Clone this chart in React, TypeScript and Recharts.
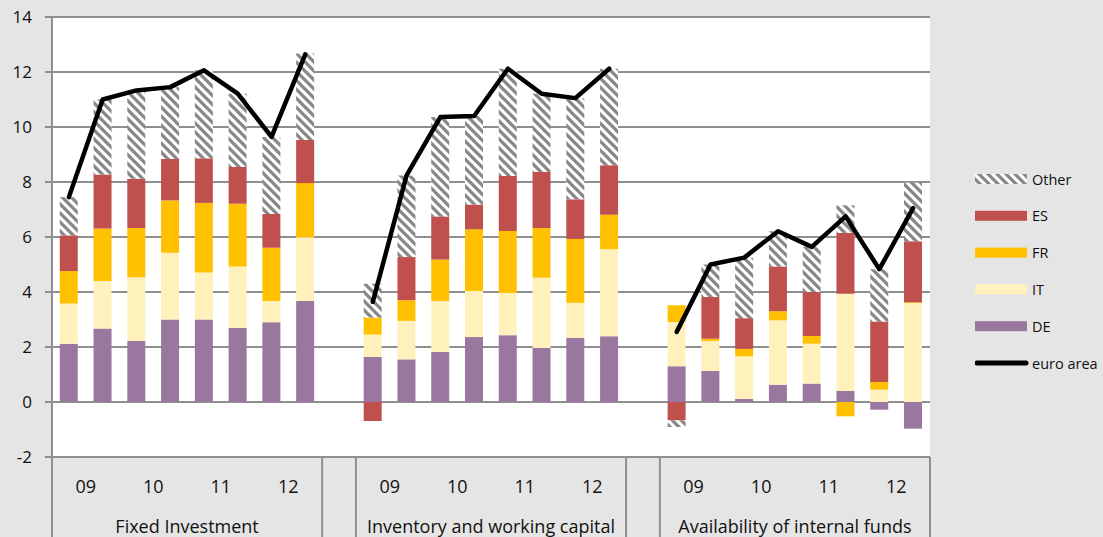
import React from "react";
import {
  ComposedChart,
  Bar,
  Line,
  XAxis,
  YAxis,
  CartesianGrid,
  Legend,
} from "recharts";

// ---------- data ----------
const groups = ["Fixed Investment", "Inventory and working capital", "Availability of internal funds"];
const years = ["09", "10", "11", "12"];

// 8 survey rounds per group (2 per year), 3 groups => 24 values per series
const DE = [
  2.12, 2.67, 2.22, 3.0, 3.0, 2.69, 2.9, 3.67,
  1.64, 1.55, 1.82, 2.36, 2.43, 1.96, 2.33, 2.39,
  1.3, 1.13, 0.11, 0.63, 0.67, 0.4, -0.28, -0.97,
];
const IT = [
  1.46, 1.73, 2.32, 2.43, 1.71, 2.24, 0.77, 2.32,
  0.81, 1.4, 1.85, 1.68, 1.53, 2.56, 1.28, 3.17,
  1.61, 1.09, 1.55, 2.34, 1.45, 3.54, 0.45, 3.6,
];
const FR = [
  1.18, 1.91, 1.79, 1.9, 2.53, 2.28, 1.94, 1.97,
  0.62, 0.75, 1.51, 2.24, 2.26, 1.81, 2.32, 1.25,
  0.61, 0.08, 0.27, 0.33, 0.28, -0.52, 0.28, 0.03,
];
const ES = [
  1.3, 1.96, 1.79, 1.51, 1.62, 1.34, 1.23, 1.57,
  -0.69, 1.57, 1.57, 0.9, 2.0, 2.03, 1.44, 1.8,
  -0.67, 1.52, 1.12, 1.63, 1.6, 2.21, 2.2, 2.22,
];
const OTHER = [
  1.39, 2.73, 3.21, 2.61, 3.2, 2.66, 2.8, 3.14,
  1.23, 2.97, 3.61, 3.22, 3.9, 2.85, 3.68, 3.51,
  -0.24, 1.18, 2.2, 1.28, 1.64, 1.0, 1.9, 2.12,
];
const EURO = [
  7.45, 11.0, 11.33, 11.45, 12.06, 11.21, 9.64, 12.64,
  3.64, 8.24, 10.36, 10.4, 12.12, 11.21, 11.05, 12.12,
  2.55, 5.0, 5.25, 6.21, 5.64, 6.75, 4.83, 7.05,
];
const yTicks = [-2, 0, 2, 4, 6, 8, 10, 12, 14];

// ---------- styles ----------
const COLORS = {
  DE: "#9a779e",
  IT: "#fff1bb",
  FR: "#ffc000",
  ES: "#c0504d",
  line: "#000000",
  grid: "#8f8f8f",
  bg: "#e5e5e5",
};
const FONT = "'Open Sans', sans-serif";

// ---------- layout ----------
const W = 1103;
const H = 537;
const MARGIN = { top: 17, right: 173, bottom: 0, left: 0 };
const YAXIS_W = 52;
const XAXIS_H = 80;
const PER_GROUP = 8;

// build table with a blank spacer category between groups
type Row = {
  key: string;
  pos: number; // -1 for gap
  group: number;
  DE: number | null;
  IT: number | null;
  FR: number | null;
  ES: number | null;
  Other: number | null;
  euro: number | null;
};
const rows: Row[] = [];
groups.forEach((g, gi) => {
  for (let j = 0; j < PER_GROUP; j++) {
    const k = gi * PER_GROUP + j;
    rows.push({
      key: `g${gi}-${j}`,
      pos: j,
      group: gi,
      DE: DE[k],
      IT: IT[k],
      FR: FR[k],
      ES: ES[k],
      Other: OTHER[k],
      euro: EURO[k],
    });
  }
  if (gi < groups.length - 1) {
    rows.push({
      key: `gap${gi}`,
      pos: -1,
      group: gi,
      DE: null,
      IT: null,
      FR: null,
      ES: null,
      Other: null,
      euro: null,
    });
  }
});

const PLOT_W = W - MARGIN.left - MARGIN.right - YAXIS_W;
const PLOT_BOTTOM = H - MARGIN.bottom - XAXIS_H;
const BAND = PLOT_W / rows.length;

const XTick = (props: any) => {
  const { x, payload } = props;
  const row = rows[payload.index];
  if (!row || row.pos < 0) return <g />;
  const els: React.ReactNode[] = [];
  const lineStyle = { stroke: COLORS.grid, strokeWidth: 2 };
  if (row.pos === 0) {
    els.push(
      <line key="l" x1={x - BAND / 2} x2={x - BAND / 2} y1={PLOT_BOTTOM} y2={H} {...lineStyle} />
    );
  }
  if (row.pos === PER_GROUP - 1) {
    els.push(
      <line key="r" x1={x + BAND / 2} x2={x + BAND / 2} y1={PLOT_BOTTOM} y2={H} {...lineStyle} />
    );
  }
  if (row.pos % 2 === 0) {
    els.push(
      <text
        key="y"
        x={x + BAND / 2}
        y={PLOT_BOTTOM + 36}
        textAnchor="middle"
        fontSize={18}
        fontFamily={FONT}
        fill="#111"
      >
        {years[row.pos / 2]}
      </text>
    );
  }
  if (row.pos === PER_GROUP / 2 - 1) {
    els.push(
      <text
        key="g"
        x={x + BAND / 2}
        y={PLOT_BOTTOM + 75.5}
        textAnchor="middle"
        fontSize={18}
        fontFamily={FONT}
        fill="#111"
      >
        {groups[row.group]}
      </text>
    );
  }
  return <g>{els}</g>;
};

const HatchDef = ({ id }: { id: string }) => (
  <pattern id={id} patternUnits="userSpaceOnUse" width={9} height={9}>
    <rect width={9} height={9} fill="#ffffff" />
    <path d="M-2,-2 L11,11 M-2,7 L2,11 M7,-2 L11,2" stroke="#888888" strokeWidth={3.3} />
  </pattern>
);

const legendItems = [
  { name: "Other", kind: "hatch", color: "" },
  { name: "ES", kind: "rect", color: COLORS.ES },
  { name: "FR", kind: "rect", color: COLORS.FR },
  { name: "IT", kind: "rect", color: COLORS.IT },
  { name: "DE", kind: "rect", color: COLORS.DE },
  { name: "euro area", kind: "line", color: COLORS.line },
];

const LegendContent = () => {
  const step = 36.8;
  const first = 18;
  return (
    <svg width={128} height={230} style={{ display: "block" }}>
      <defs>
        <HatchDef id="hatchLegend" />
      </defs>
      {legendItems.map((it, i) => {
        const cy = first + i * step;
        return (
          <g key={it.name}>
            {it.kind === "line" ? (
              <line x1={2} x2={51} y1={cy} y2={cy} stroke={it.color} strokeWidth={5} strokeLinecap="round" />
            ) : (
              <rect
                x={0}
                y={cy - 5}
                width={52}
                height={10}
                fill={it.kind === "hatch" ? "url(#hatchLegend)" : it.color}
              />
            )}
            <text x={57} y={cy} dominantBaseline="central" fontSize={14.5} fontFamily={FONT} fill="#111">
              {it.name}
            </text>
          </g>
        );
      })}
    </svg>
  );
};

export default function App() {
  return (
    <div
      style={{
        position: "absolute",
        left: 0,
        top: 0,
        width: W,
        height: H,
        background: COLORS.bg,
        overflow: "hidden",
      }}
    >
      <ComposedChart
        width={W}
        height={H}
        data={rows}
        margin={MARGIN}
        stackOffset="sign"
        barCategoryGap="23%"
      >
        <defs>
          <HatchDef id="hatchBar" />
        </defs>
        <CartesianGrid
          horizontal
          vertical={false}
          stroke={COLORS.grid}
          strokeWidth={2}
          fill="#ffffff"
          fillOpacity={1}
        />
        <XAxis
          dataKey="key"
          height={XAXIS_H}
          interval={0}
          tickLine={false}
          axisLine={{ stroke: COLORS.grid, strokeWidth: 2 }}
          tick={<XTick />}
        />
        <YAxis
          width={YAXIS_W}
          domain={[-2, 14]}
          ticks={yTicks}
          interval={0}
          tickSize={7}
          tickMargin={13}
          tickLine={{ stroke: COLORS.grid, strokeWidth: 2 }}
          axisLine={{ stroke: COLORS.grid, strokeWidth: 2 }}
          tick={{ fontSize: 17, fontFamily: FONT, fill: "#111" }}
        />
        <Legend
          layout="horizontal"
          verticalAlign="middle"
          align="center"
          content={<LegendContent />}
          wrapperStyle={{ left: 975, top: 161, width: 128, height: 230, right: "auto", bottom: "auto" }}
        />
        <Bar dataKey="DE" stackId="a" fill={COLORS.DE} isAnimationActive={false} />
        <Bar dataKey="IT" stackId="a" fill={COLORS.IT} isAnimationActive={false} />
        <Bar dataKey="FR" stackId="a" fill={COLORS.FR} isAnimationActive={false} />
        <Bar dataKey="ES" stackId="a" fill={COLORS.ES} isAnimationActive={false} />
        <Bar dataKey="Other" stackId="a" fill="url(#hatchBar)" isAnimationActive={false} />
        <Line
          dataKey="euro"
          stroke={COLORS.line}
          strokeWidth={4.5}
          strokeLinejoin="round"
          strokeLinecap="round"
          dot={false}
          activeDot={false}
          connectNulls={false}
          isAnimationActive={false}
        />
      </ComposedChart>
    </div>
  );
}
